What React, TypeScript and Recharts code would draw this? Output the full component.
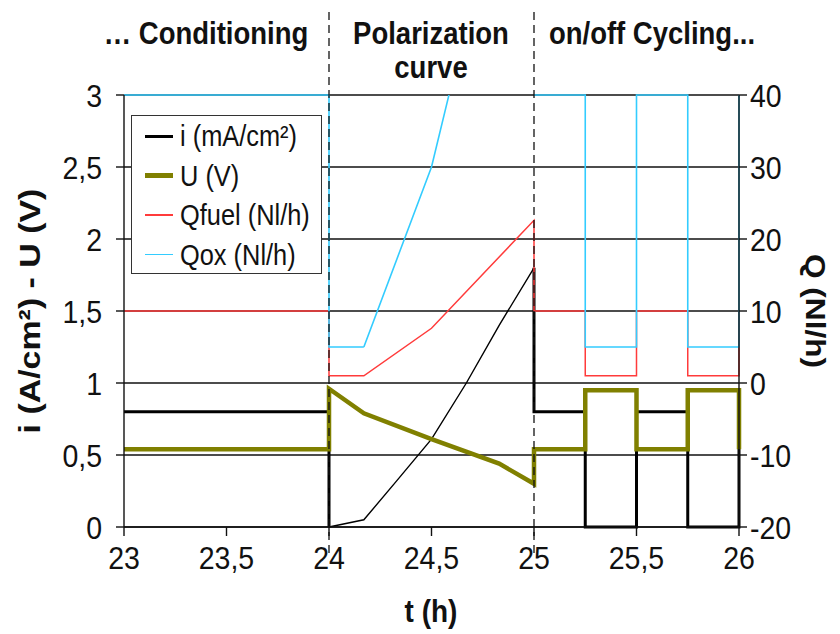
import React from 'react';
import { LineChart, Line, XAxis, YAxis, CartesianGrid, ReferenceLine } from 'recharts';

// ---- tick labels ----
const xTicks = [23, 23.5, 24, 24.5, 25, 25.5, 26];
const leftTicks = [0, 0.5, 1, 1.5, 2, 2.5, 3];
const rightTicks = [-20, -10, 0, 10, 20, 30, 40];
const phaseBounds = [24, 25];
const phaseTitles = ['… Conditioning', 'Polarization', 'curve', 'on/off Cycling...'];

// ---- i (A/cm²): steady / cycling part (thick) ----
const iStepTime = [23, 24, 24, 24.5, 25, 25, 25.25, 25.25, 25.5, 25.5, 25.75, 25.75, 26, 26];
const iStepVal: (number | null)[] = [0.8, 0.8, 0, null, 1.8, 0.8, 0.8, 0, 0, 0.8, 0.8, 0, 0, 0.8];
// ---- i during polarization curve (thin) ----
const iPolTime = [24, 24.17, 24.33, 24.5, 24.67, 24.83, 25];
const iPolVal = [0, 0.05, 0.32, 0.61, 1.0, 1.4, 1.8];
// ---- U (V) ----
const uTime = [23, 24, 24, 24.17, 24.5, 24.83, 25, 25, 25.25, 25.25, 25.5, 25.5, 25.75, 25.75, 26, 26];
const uVal = [0.54, 0.54, 0.96, 0.79, 0.61, 0.44, 0.3, 0.54, 0.54, 0.95, 0.95, 0.54, 0.54, 0.95, 0.95, 0.54];
// ---- Qfuel (Nl/h) ----
const fuelTime = [23, 24, 24, 24.17, 24.5, 25, 25, 25.25, 25.25, 25.5, 25.5, 25.75, 25.75, 26, 26];
const fuelVal = [10, 10, 1, 1, 7.6, 22.6, 10, 10, 1, 1, 10, 10, 1, 1, 10];
// ---- Qox (Nl/h): steps ----
const oxStepTime = [23, 24, 24, 24.17, 24.5, 25, 25.25, 25.25, 25.5, 25.5, 25.75, 25.75, 26, 26];
const oxStepVal: (number | null)[] = [40, 40, 5, 5, null, 40, 40, 5, 5, 40, 40, 5, 5, 40];
// ---- Qox (Nl/h): polarization ramp (runs off the top of the scale) ----
const oxRampTime = [24.17, 24.5, 24.67];
const oxRampVal = [5, 30, 50];

const legendItems = [
  { name: 'i (mA/cm²)', color: '#000000', width: 3 },
  { name: 'U (V)', color: '#808000', width: 5 },
  { name: 'Qfuel (Nl/h)', color: '#ff3b3b', width: 1.5 },
  { name: 'Qox (Nl/h)', color: '#33ccff', width: 1.5 },
];

const toRows = (t: number[], v: (number | null)[]) => t.map((x, k) => ({ t: x, v: v[k] }));
const fmt = (v: number) => String(v).replace('.', ',');

const FONT = '"Liberation Sans", Arial, Helvetica, sans-serif';
const K = 1.13; // vertical stretch of the lettering
const SX = 1 / K;
const TICK_FS = 28.5 * K;

const XTick = (p: any) => (
  <g transform={`translate(${p.x},${p.y})`}>
    <text x={0} y={0} dy={31} textAnchor="middle" fontSize={TICK_FS} fontFamily={FONT} fill="#111" transform={`scale(${SX},1)`}>
      {fmt(p.payload.value)}
    </text>
  </g>
);
const LTick = (p: any) => (
  <g transform={`translate(${p.x},${p.y})`}>
    <text x={0} y={0} dy={11.5} textAnchor="end" fontSize={TICK_FS} fontFamily={FONT} fill="#111" transform={`scale(${SX},1)`}>
      {fmt(p.payload.value)}
    </text>
  </g>
);
const RTick = (p: any) => (
  <g transform={`translate(${p.x},${p.y})`}>
    <text x={0} y={0} dy={11.5} textAnchor="start" fontSize={TICK_FS} fontFamily={FONT} fill="#111" transform={`scale(${SX},1)`}>
      {fmt(p.payload.value)}
    </text>
  </g>
);

const dashShape = (p: any) => (
  <line
    x1={p.x1}
    x2={p.x2}
    y1={Math.min(p.y1, p.y2) - 83}
    y2={Math.max(p.y1, p.y2) + 26}
    stroke="#111"
    strokeWidth={1.3}
    strokeDasharray="8 5"
  />
);

const abs = (left: number, top: number, extra: React.CSSProperties = {}): React.CSSProperties => ({
  position: 'absolute',
  left,
  top,
  whiteSpace: 'nowrap',
  fontFamily: FONT,
  lineHeight: 1,
  color: '#111',
  ...extra,
});

const headStyle = (cx: number, cy: number) =>
  abs(cx, cy, { fontSize: 27.5 * K, fontWeight: 700, transform: `translate(-50%,-50%) scaleX(${SX})` });

export default function App() {
  return (
    <div style={{ position: 'absolute', left: 0, top: 0, width: 840, height: 634, background: '#fff' }}>
      <LineChart width={840} height={634} margin={{ top: 95, right: 41, bottom: 47, left: 64 }}>
        <CartesianGrid yAxisId="left" vertical={false} stroke="#111" strokeWidth={1.3} />
        <XAxis
          dataKey="t"
          type="number"
          domain={[23, 26]}
          ticks={xTicks}
          height={60}
          tickSize={9}
          tickMargin={2}
          stroke="#111"
          strokeWidth={1.4}
          tick={<XTick />}
          interval={0}
        />
        <YAxis
          yAxisId="left"
          type="number"
          domain={[0, 3]}
          ticks={leftTicks}
          width={60}
          tickSize={8}
          tickMargin={14}
          stroke="#111"
          strokeWidth={1.4}
          tick={<LTick />}
          interval={0}
        />
        <YAxis
          yAxisId="right"
          orientation="right"
          type="number"
          domain={[-20, 40]}
          ticks={rightTicks}
          width={60}
          tickSize={8}
          tickMargin={3}
          stroke="#111"
          strokeWidth={1.4}
          tick={<RTick />}
          interval={0}
        />
        <YAxis yAxisId="rightClip" orientation="right" type="number" domain={[-20, 40]} allowDataOverflow hide />
        <Line data={toRows(iStepTime, iStepVal)} dataKey="v" yAxisId="left" type="linear" stroke="#000" strokeWidth={3} dot={false} activeDot={false} isAnimationActive={false} connectNulls={false} />
        <Line data={toRows(iPolTime, iPolVal)} dataKey="v" yAxisId="left" type="linear" stroke="#000" strokeWidth={1.4} dot={false} activeDot={false} isAnimationActive={false} />
        <Line data={toRows(uTime, uVal)} dataKey="v" yAxisId="left" type="linear" stroke="#808000" strokeWidth={4.5} dot={false} activeDot={false} isAnimationActive={false} />
        <Line data={toRows(fuelTime, fuelVal)} dataKey="v" yAxisId="right" type="linear" stroke="#ff3b3b" strokeWidth={1.5} dot={false} activeDot={false} isAnimationActive={false} />
        <Line data={toRows(oxStepTime, oxStepVal)} dataKey="v" yAxisId="right" type="linear" stroke="#33ccff" strokeWidth={1.6} dot={false} activeDot={false} isAnimationActive={false} connectNulls={false} />
        <Line data={toRows(oxRampTime, oxRampVal)} dataKey="v" yAxisId="rightClip" type="linear" stroke="#33ccff" strokeWidth={1.6} dot={false} activeDot={false} isAnimationActive={false} />
        {phaseBounds.map((b) => (
          <ReferenceLine key={b} x={b} yAxisId="left" shape={dashShape} />
        ))}
      </LineChart>

      {/* phase headers */}
      <div style={headStyle(206, 34)}>{phaseTitles[0]}</div>
      <div style={headStyle(431, 34)}>{phaseTitles[1]}</div>
      <div style={headStyle(431, 68)}>{phaseTitles[2]}</div>
      <div style={headStyle(652, 34)}>{phaseTitles[3]}</div>

      {/* axis titles */}
      <div style={abs(431, 612, { fontSize: 28 * K, fontWeight: 700, transform: `translate(-50%,-50%) scaleX(${SX})` })}>t (h)</div>
      <div style={abs(30, 311, { fontSize: 30, fontWeight: 700, transform: `translate(-50%,-50%) rotate(-90deg) scaleX(${K})` })}>
        i (A/cm²) - U (V)
      </div>
      <div style={abs(815, 311, { fontSize: 28, fontWeight: 700, transform: `translate(-50%,-50%) rotate(90deg) scaleX(${K})` })}>
        Q (Nl/h)
      </div>

      {/* legend */}
      <div
        style={{
          position: 'absolute',
          left: 131,
          top: 115,
          width: 191,
          height: 159,
          boxSizing: 'border-box',
          border: '1.5px solid #333',
          background: '#fff',
        }}
      >
        {legendItems.map((it, k) => (
          <div key={it.name} style={{ position: 'absolute', left: 0, top: 20 + k * 39.5, width: '100%' }}>
            <div
              style={{
                position: 'absolute',
                left: 13,
                top: -it.width / 2,
                width: 28,
                height: it.width,
                background: it.color,
              }}
            />
            <div
              style={{
                position: 'absolute',
                left: 48,
                top: 0,
                fontFamily: FONT,
                fontSize: 25.4 * K,
                lineHeight: 1,
                whiteSpace: 'nowrap',
                color: '#111',
                transformOrigin: 'left center',
                transform: `translateY(-50%) scaleX(${SX})`,
              }}
            >
              {it.name}
            </div>
          </div>
        ))}
      </div>
    </div>
  );
}
